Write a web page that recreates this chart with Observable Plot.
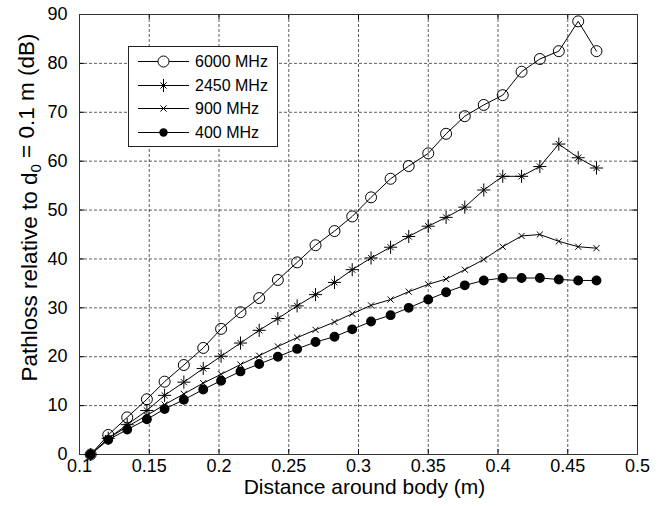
<!DOCTYPE html>
<html>
<head>
<meta charset="utf-8">
<script src="https://cdn.jsdelivr.net/npm/d3@7"></script>
<script src="https://cdn.jsdelivr.net/npm/@observablehq/plot@0.6"></script>
<style>
  html, body { margin: 0; padding: 0; background: #fff; }
  #wrap { position: relative; width: 665px; height: 506px; font-family: "Liberation Sans", Arial, Helvetica, sans-serif; }
  #legend { position: absolute; left: 128px; top: 46px; width: 150px; height: 101px; box-sizing: border-box; border: 1px solid #222; background: #fff; }
</style>
</head>
<body>
<div id="wrap"><div id="legend"></div></div>
<script>
// ---- data ----
const distance = [0.108, 0.1206, 0.1342, 0.1483, 0.161, 0.1748, 0.1887, 0.2015, 0.2154, 0.2288, 0.2422, 0.256, 0.2692, 0.2828, 0.2955, 0.309, 0.323, 0.336, 0.350, 0.3628, 0.3762, 0.3898, 0.4034, 0.4169, 0.430, 0.4436, 0.4575, 0.4706];
const loss6000 = [0, 4.0, 7.6, 11.3, 14.9, 18.3, 21.8, 25.7, 29.1, 32.0, 35.7, 39.3, 42.8, 45.7, 48.7, 52.6, 56.4, 59.0, 61.6, 65.6, 69.2, 71.5, 73.5, 78.3, 80.9, 82.5, 88.6, 82.5];
const loss2450 = [0, 3.3, 6.1, 9.0, 12.1, 14.8, 17.6, 20.1, 22.8, 25.4, 27.8, 30.4, 32.7, 35.2, 37.8, 40.2, 42.4, 44.6, 46.7, 48.5, 50.6, 54.1, 56.9, 56.9, 58.9, 63.5, 60.7, 58.6];
const loss900  = [0, 3.3, 5.7, 8.0, 10.2, 12.4, 14.6, 16.4, 18.4, 20.2, 22.1, 23.9, 25.5, 27.1, 28.8, 30.5, 31.7, 33.3, 34.8, 35.9, 37.8, 39.9, 42.5, 44.7, 45.0, 43.6, 42.5, 42.2];
const loss400  = [0, 3.0, 5.1, 7.2, 9.3, 11.2, 13.3, 15.1, 17.0, 18.5, 20.0, 21.6, 23.0, 24.1, 25.6, 27.2, 28.5, 30.0, 31.7, 33.2, 34.6, 35.6, 36.1, 36.1, 36.1, 35.8, 35.6, 35.6];
const seriesNames = ["6000 MHz", "2450 MHz", "900 MHz", "400 MHz"];
const xTicks = [0.1, 0.15, 0.2, 0.25, 0.3, 0.35, 0.4, 0.45, 0.5];
const yTicks = [0, 10, 20, 30, 40, 50, 60, 70, 80, 90];
const xLabel = "Distance around body (m)";
const yLabel = "Pathloss relative to d\u2080 = 0.1 m (dB)";

// ---- table built from the arrays ----
const seriesValues = [loss6000, loss2450, loss900, loss400];
const rows = seriesNames.flatMap((name, k) => distance.map((d, i) => ({x: d, y: seriesValues[k][i], s: name})));
const only = name => rows.filter(r => r.s === name);

const gridStyle = {stroke: "#000", strokeOpacity: 0.8, strokeWidth: 0.8, strokeDasharray: "3,2"};

const plot = Plot.plot({
  width: 665,
  height: 506,
  marginLeft: 79,
  marginRight: 28,
  marginTop: 14,
  marginBottom: 52,
  x: {domain: [0.1, 0.5]},
  y: {domain: [0, 90]},
  style: {fontFamily: "'Liberation Sans', Arial, Helvetica, sans-serif", fontSize: "18px", color: "#000", background: "transparent"},
  marks: [
    Plot.gridX(xTicks, gridStyle),
    Plot.gridY(yTicks, gridStyle),
    // inward ticks (MATLAB style)
    Plot.tickX(xTicks, {x: d => d, insetTop: 435, stroke: "#000"}),
    Plot.tickX(xTicks, {x: d => d, insetBottom: 435, stroke: "#000"}),
    Plot.tickY(yTicks, {y: d => d, insetRight: 553, stroke: "#000"}),
    Plot.tickY(yTicks, {y: d => d, insetLeft: 553, stroke: "#000"}),
    Plot.frame({stroke: "#333", strokeWidth: 1}),
    Plot.axisX(xTicks, {tickSize: 0, tickPadding: 5, tickFormat: d => String(d), label: null, fontSize: 18}),
    Plot.axisY(yTicks, {tickSize: 0, tickPadding: 12, tickFormat: d => String(d), label: null, fontSize: 18}),
    Plot.text([xLabel], {frameAnchor: "bottom", textAnchor: "middle", dx: 6, dy: 39, fontSize: 21, text: d => d}),
    Plot.text([yLabel], {frameAnchor: "left", textAnchor: "middle", dx: -50, dy: -27, rotate: -90, fontSize: 22.5, text: d => d}),
    Plot.line(rows, {x: "x", y: "y", z: "s", stroke: "#000", strokeWidth: 1}),
    Plot.dot(only("6000 MHz"), {x: "x", y: "y", symbol: "circle", r: 5.5, stroke: "#000", fill: "none", strokeWidth: 1}),
    Plot.dot(only("2450 MHz"), {x: "x", y: "y", symbol: "plus", r: 4.3, stroke: "#000", strokeWidth: 1}),
    Plot.dot(only("2450 MHz"), {x: "x", y: "y", symbol: "times", r: 2.9, stroke: "#000", strokeWidth: 1}),
    Plot.dot(only("900 MHz"), {x: "x", y: "y", symbol: "times", r: 2.9, stroke: "#000", strokeWidth: 1}),
    Plot.dot(only("400 MHz"), {x: "x", y: "y", symbol: "circle", r: 4.2, fill: "#000", stroke: "#000"})
  ]
});

// subscript the 0 of d0 in the y title
d3.select(plot).selectAll("text").filter(function() { return this.textContent === yLabel; }).each(function() {
  const t = d3.select(this);
  t.text(null);
  t.append("tspan").text("Pathloss relative to d");
  t.append("tspan").attr("font-size", "15px").attr("dy", "0.3em").text("0");
  t.append("tspan").attr("dy", "-0.3em").text(" = 0.1 m (dB)");
});

const wrap = document.getElementById("wrap");
plot.style.position = "absolute";
plot.style.left = "0";
plot.style.top = "0";
wrap.insertBefore(plot, wrap.firstChild);

// ---- legend (overlaid box, as in the reference) ----
const lg = d3.select("#legend").append("svg").attr("width", 148).attr("height", 99)
  .style("font-family", "'Liberation Sans', Arial, Helvetica, sans-serif");
const rowY = [14.5, 38.5, 61.5, 85.5];
seriesNames.forEach((name, i) => {
  const g = lg.append("g").attr("transform", `translate(0,${rowY[i]})`);
  g.append("line").attr("x1", 9).attr("x2", 60).attr("stroke", "#000").attr("stroke-width", 1);
  const cx = 34.5;
  if (i === 0) g.append("circle").attr("cx", cx).attr("r", 5.5).attr("fill", "#fff").attr("stroke", "#000");
  if (i === 1) {
    g.append("path").attr("d", d3.symbol(d3.symbolPlus, Math.PI * 4.3 * 4.3)()).attr("transform", `translate(${cx},0)`).attr("stroke", "#000").attr("fill", "none");
    g.append("path").attr("d", d3.symbol(d3.symbolTimes, Math.PI * 2.9 * 2.9)()).attr("transform", `translate(${cx},0)`).attr("stroke", "#000").attr("fill", "none");
  }
  if (i === 2) g.append("path").attr("d", d3.symbol(d3.symbolTimes, Math.PI * 2.9 * 2.9)()).attr("transform", `translate(${cx},0)`).attr("stroke", "#000").attr("fill", "none");
  if (i === 3) g.append("circle").attr("cx", cx).attr("r", 4.2).attr("fill", "#000");
  g.append("text").attr("x", 66).attr("dy", "0.36em").attr("font-size", 16).attr("fill", "#000").text(name);
});
</script>
</body>
</html>
